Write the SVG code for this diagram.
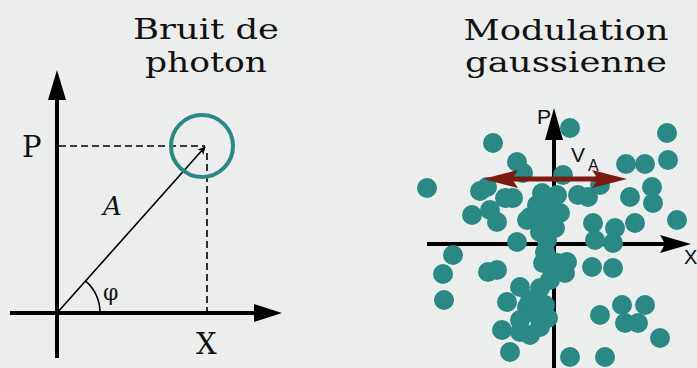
<svg xmlns="http://www.w3.org/2000/svg" width="697" height="368" viewBox="0 0 697 368">
<defs>
<style>
.title{font-family:"DejaVu Serif","Liberation Serif",serif;font-size:27px;fill:#111;}
.ser{font-family:"DejaVu Serif","Liberation Serif",serif;fill:#111;}
.sans{font-family:"Liberation Sans",Arial,sans-serif;fill:#111;}
.axis{stroke:#000;stroke-width:4;fill:none;}
.dash{stroke:#000;stroke-width:1.6;stroke-dasharray:7 4;fill:none;}
.dot{fill:#2a8985;}
</style>
<marker id="sm" viewBox="0 0 10 10" refX="9" refY="5" markerWidth="8" markerHeight="8" markerUnits="userSpaceOnUse" orient="auto">
<path d="M0,0 L10,5 L0,10 L3,5 Z" fill="#000"/>
</marker>
</defs>
<rect width="697" height="368" fill="#eceeed"/>

<g id="title-left">
<text class="title" x="206" y="39" text-anchor="middle" textLength="146" lengthAdjust="spacingAndGlyphs">Bruit de</text>
<text class="title" x="206" y="72" text-anchor="middle" textLength="122" lengthAdjust="spacingAndGlyphs">photon</text>
</g>
<g id="title-right">
<text class="title" x="566" y="40" text-anchor="middle" textLength="205" lengthAdjust="spacingAndGlyphs">Modulation</text>
<text class="title" x="566" y="72" text-anchor="middle" textLength="202" lengthAdjust="spacingAndGlyphs">gaussienne</text>
</g>

<g id="left-diagram">
<line class="dash" x1="59" y1="146" x2="205" y2="146"/>
<line class="dash" x1="207" y1="153" x2="207" y2="311"/>
<line class="axis" x1="57" y1="95" x2="57" y2="358"/>
<polygon points="57,70 66,100 48,100" fill="#000"/>
<line class="axis" x1="10" y1="313" x2="258" y2="313"/>
<polygon points="282,313 254,304 254,322" fill="#000"/>
<line x1="57" y1="313" x2="205" y2="147" stroke="#000" stroke-width="1.6" marker-end="url(#sm)"/>
<path d="M85.5,280.8 A43,43 0 0 1 100,313" fill="none" stroke="#000" stroke-width="1.6"/>
<circle cx="202" cy="146" r="31" fill="none" stroke="#2a8985" stroke-width="4"/>
<text class="ser" x="22" y="157" font-size="29">P</text>
<text class="ser" x="196" y="354" font-size="29">X</text>
<text class="ser" x="103" y="215" font-size="26" font-style="italic">A</text>
<text class="ser" x="103" y="300" font-size="22">φ</text>
</g>

<g id="right-diagram">
<line class="axis" x1="554" y1="135" x2="554" y2="368"/>
<polygon points="554,108 563,140 545,140" fill="#000"/>
<line class="axis" x1="427" y1="244" x2="665" y2="244"/>
<polygon points="691,244 660,235 665,244 660,253" fill="#000"/>
<g id="dots" class="dot">
<circle cx="570" cy="128" r="10"/><circle cx="493" cy="143" r="10"/><circle cx="667" cy="133" r="10"/>
<circle cx="668" cy="160" r="10"/><circle cx="645" cy="164" r="10"/><circle cx="626" cy="164" r="10"/>
<circle cx="517" cy="162" r="10"/><circle cx="523" cy="173" r="10"/><circle cx="427" cy="188" r="10"/>
<circle cx="563" cy="175" r="10"/><circle cx="480" cy="191" r="10"/><circle cx="487" cy="187" r="10"/>
<circle cx="472" cy="215" r="10"/><circle cx="490" cy="210" r="10"/><circle cx="497" cy="222" r="10"/>
<circle cx="513" cy="198" r="10"/><circle cx="542" cy="193" r="10"/><circle cx="530" cy="217" r="10"/>
<circle cx="578" cy="195" r="10"/><circle cx="588" cy="197" r="10"/><circle cx="600" cy="185" r="10"/>
<circle cx="630" cy="197" r="10"/><circle cx="652" cy="187" r="10"/><circle cx="653" cy="203" r="10"/>
<circle cx="677" cy="220" r="10"/><circle cx="635" cy="223" r="10"/><circle cx="615" cy="228" r="10"/>
<circle cx="593" cy="223" r="10"/><circle cx="453" cy="255" r="10"/><circle cx="443" cy="274" r="10"/>
<circle cx="444" cy="300" r="10"/><circle cx="488" cy="272" r="10"/><circle cx="497" cy="270" r="10"/>
<circle cx="517" cy="242" r="10"/><circle cx="520" cy="287" r="10"/><circle cx="507" cy="302" r="10"/>
<circle cx="527" cy="307" r="10"/><circle cx="537" cy="297" r="10"/><circle cx="502" cy="330" r="10"/>
<circle cx="520" cy="332" r="10"/><circle cx="540" cy="327" r="10"/><circle cx="510" cy="352" r="10"/>
<circle cx="543" cy="263" r="10"/><circle cx="547" cy="240" r="10"/><circle cx="595" cy="240" r="10"/>
<circle cx="613" cy="243" r="10"/><circle cx="592" cy="267" r="10"/><circle cx="613" cy="268" r="10"/>
<circle cx="558" cy="263" r="10"/><circle cx="565" cy="273" r="10"/><circle cx="600" cy="315" r="10"/>
<circle cx="622" cy="305" r="10"/><circle cx="645" cy="305" r="10"/><circle cx="625" cy="323" r="10"/>
<circle cx="638" cy="323" r="10"/><circle cx="660" cy="338" r="10"/><circle cx="570" cy="357" r="10"/>
<circle cx="605" cy="357" r="10"/><circle cx="557" cy="195" r="10"/><circle cx="537" cy="205" r="10"/>
<circle cx="550" cy="210" r="10"/><circle cx="560" cy="213" r="10"/><circle cx="527" cy="220" r="10"/>
<circle cx="547" cy="220" r="10"/><circle cx="540" cy="232" r="10"/><circle cx="555" cy="228" r="10"/>
<circle cx="545" cy="252" r="10"/><circle cx="553" cy="262" r="10"/><circle cx="567" cy="262" r="10"/>
<circle cx="550" cy="280" r="10"/><circle cx="540" cy="288" r="10"/><circle cx="530" cy="300" r="10"/>
<circle cx="545" cy="305" r="10"/><circle cx="537" cy="315" r="10"/><circle cx="520" cy="320" r="10"/>
<circle cx="548" cy="318" r="10"/><circle cx="530" cy="335" r="10"/><circle cx="505" cy="198" r="10"/>
</g>
<g id="va-arrow">
<line x1="505" y1="179" x2="605" y2="179" stroke="#7a1b12" stroke-width="5"/>
<polygon points="483,179 518,170 512,179 518,188" fill="#7a1b12"/>
<polygon points="627,179 592,170 598,179 592,188" fill="#7a1b12"/>
</g>
<text class="sans" x="537" y="124" font-size="21">P</text>
<text class="sans" x="684" y="264" font-size="20">X</text>
<text class="sans" x="571" y="162" font-size="21">V</text>
<text class="sans" x="588" y="171" font-size="16">A</text>
</g>
</svg>
